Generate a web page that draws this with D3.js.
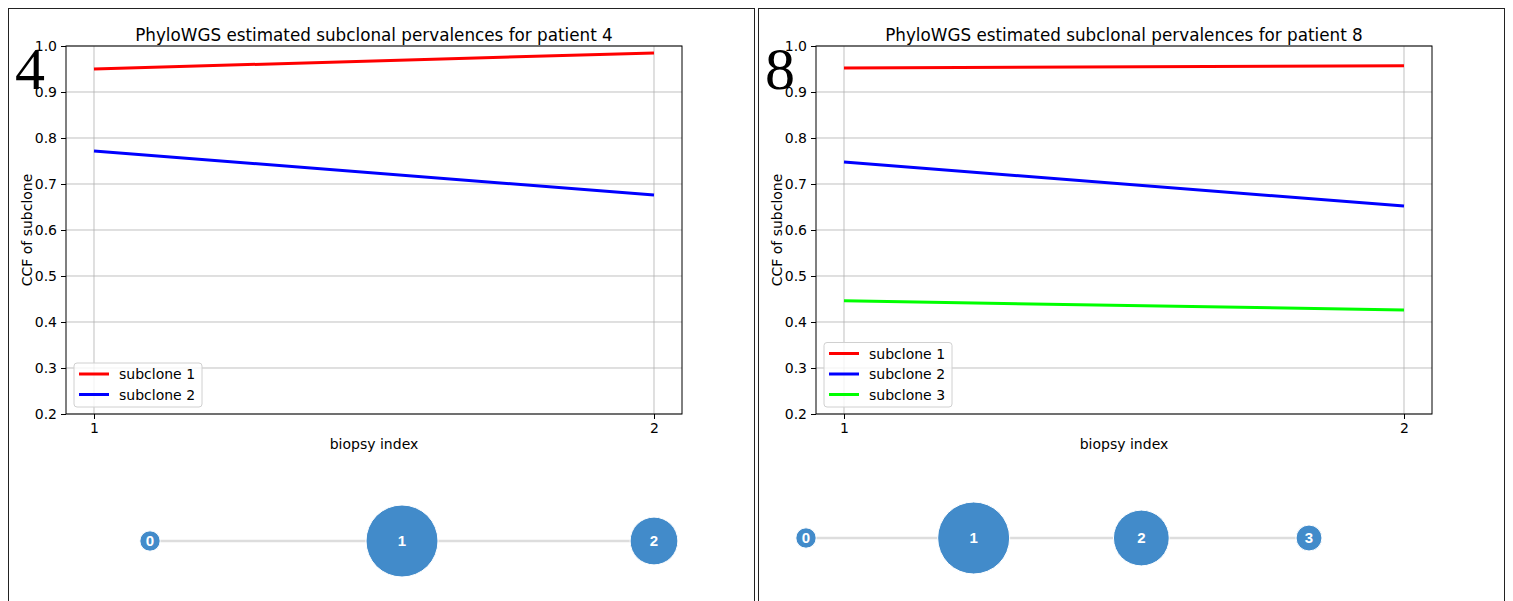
<!DOCTYPE html>
<html>
<head>
<meta charset="utf-8">
<script src="https://cdn.jsdelivr.net/npm/d3@7"></script>
<style>
  body { margin: 0; background: #fff; }
  svg { display: block; font-family: "DejaVu Sans", sans-serif; }
</style>
</head>
<body>
<svg id="chart" width="1513" height="601"></svg>
<script>
// biopsy indices on the x axis
var biopsies = [1, 2];
var yTicks = [0.2, 0.3, 0.4, 0.5, 0.6, 0.7, 0.8, 0.9, 1.0];

// patient 4
var p4Subclone1 = [0.950, 0.985];
var p4Subclone2 = [0.772, 0.676];
// patient 8
var p8Subclone1 = [0.952, 0.957];
var p8Subclone2 = [0.748, 0.652];
var p8Subclone3 = [0.446, 0.426];

// tree nodes (relative subclone size, root is node 0)
var p4Nodes = [8, 100, 44];
var p8Nodes = [8, 100, 60, 13];

var cloneColors = ["#ff0000", "#0000ff", "#00ff00"];

var panels = [
  { patient: 4, left: 8, series: [p4Subclone1, p4Subclone2], nodes: p4Nodes,
    treeRange: [150, 654], treeY: 541 },
  { patient: 8, left: 758, series: [p8Subclone1, p8Subclone2, p8Subclone3], nodes: p8Nodes,
    treeRange: [806, 1309], treeY: 538 }
];

var svg = d3.select("#chart");
var nodeRadius = d3.scaleSqrt().domain([0, 100]).range([0, 36]);

panels.forEach(function(p) {
  var g = svg.append("g");

  // panel frame
  g.append("rect")
    .attr("x", p.left + 0.5).attr("y", 8.5)
    .attr("width", 746).attr("height", 620)
    .attr("fill", "none").attr("stroke", "#222").attr("stroke-width", 1);

  var x0 = p.left + 58, x1 = p.left + 674;
  var x = d3.scaleLinear().domain([0.95, 2.05]).range([x0, x1]);
  var y = d3.scaleLinear().domain([0.2, 1.0]).range([414, 46]);

  // grid
  g.append("g").selectAll("line.hg").data(yTicks).enter().append("line")
    .attr("x1", x0).attr("x2", x1)
    .attr("y1", function(d) { return y(d); }).attr("y2", function(d) { return y(d); })
    .attr("stroke", "#b0b0b0").attr("stroke-opacity", 0.8).attr("stroke-width", 1);
  g.append("g").selectAll("line.vg").data(biopsies).enter().append("line")
    .attr("y1", 46).attr("y2", 414)
    .attr("x1", function(d) { return x(d); }).attr("x2", function(d) { return x(d); })
    .attr("stroke", "#b0b0b0").attr("stroke-opacity", 0.8).attr("stroke-width", 1);

  // lines
  var line = d3.line()
    .x(function(d, i) { return x(biopsies[i]); })
    .y(function(d) { return y(d); });
  p.series.forEach(function(s, i) {
    g.append("path").datum(s)
      .attr("d", line)
      .attr("fill", "none")
      .attr("stroke", cloneColors[i])
      .attr("stroke-width", 3);
  });

  // axes
  var xAxis = g.append("g").attr("transform", "translate(0,414)")
    .call(d3.axisBottom(x).tickValues(biopsies).tickFormat(d3.format("d")).tickSize(5).tickPadding(4));
  var yAxis = g.append("g").attr("transform", "translate(" + x0 + ",0)")
    .call(d3.axisLeft(y).tickValues(yTicks).tickFormat(d3.format(".1f")).tickSize(5).tickPadding(4));
  [xAxis, yAxis].forEach(function(a) {
    a.select(".domain").remove();
    a.selectAll("text").attr("font-size", 14).attr("fill", "#000")
      .attr("font-family", "DejaVu Sans, sans-serif");
    a.selectAll("line").attr("stroke", "#000");
  });

  // spines
  g.append("rect")
    .attr("x", x0).attr("y", 46).attr("width", x1 - x0).attr("height", 368)
    .attr("fill", "none").attr("stroke", "#000").attr("stroke-width", 1);

  // titles
  g.append("text")
    .attr("x", (x0 + x1) / 2).attr("y", 41)
    .attr("text-anchor", "middle").attr("font-size", 16.8)
    .text("PhyloWGS estimated subclonal pervalences for patient " + p.patient);
  g.append("text")
    .attr("x", (x0 + x1) / 2).attr("y", 449)
    .attr("text-anchor", "middle").attr("font-size", 14)
    .text("biopsy index");
  g.append("text")
    .attr("transform", "translate(" + (p.left + 24) + ",230) rotate(-90)")
    .attr("text-anchor", "middle").attr("font-size", 14)
    .text("CCF of subclone");

  // legend
  var n = p.series.length;
  var lh = 20.5;
  var ly0 = 407 - n * lh - 3;
  var lg = g.append("g");
  lg.append("rect")
    .attr("x", x0 + 8).attr("y", ly0).attr("width", 128).attr("height", n * lh + 3)
    .attr("rx", 3).attr("fill", "#fff").attr("fill-opacity", 0.8)
    .attr("stroke", "#d0d0d0");
  p.series.forEach(function(s, i) {
    var yy = ly0 + 11 + i * lh;
    lg.append("line")
      .attr("x1", x0 + 13).attr("x2", x0 + 43)
      .attr("y1", yy).attr("y2", yy)
      .attr("stroke", cloneColors[i]).attr("stroke-width", 3);
    lg.append("text")
      .attr("x", x0 + 53).attr("y", yy + 5)
      .attr("font-size", 14)
      .text("subclone " + (i + 1));
  });

  // big patient number
  g.append("text")
    .attr("x", p.left + 7).attr("y", 89)
    .attr("font-family", "Liberation Serif, serif")
    .attr("font-size", 60)
    .text(p.patient);

  // tree
  var tx = d3.scalePoint().domain(d3.range(p.nodes.length)).range(p.treeRange);
  var tg = g.append("g");
  tg.append("line")
    .attr("x1", tx(0)).attr("x2", tx(p.nodes.length - 1))
    .attr("y1", p.treeY).attr("y2", p.treeY)
    .attr("stroke", "#ddd").attr("stroke-width", 2.5);
  var node = tg.selectAll("g.node").data(p.nodes).enter().append("g")
    .attr("transform", function(d, i) { return "translate(" + tx(i) + "," + p.treeY + ")"; });
  node.append("circle")
    .attr("r", function(d) { return nodeRadius(d); })
    .attr("fill", "#428bca")
    .attr("stroke", "#fff").attr("stroke-width", 1);
  node.append("text")
    .attr("text-anchor", "middle").attr("dy", "0.36em")
    .attr("font-family", "Liberation Sans, Arial, sans-serif")
    .attr("font-size", 15)
    .attr("font-weight", "bold")
    .attr("fill", "#fff")
    .text(function(d, i) { return i; });
});
</script>
</body>
</html>
